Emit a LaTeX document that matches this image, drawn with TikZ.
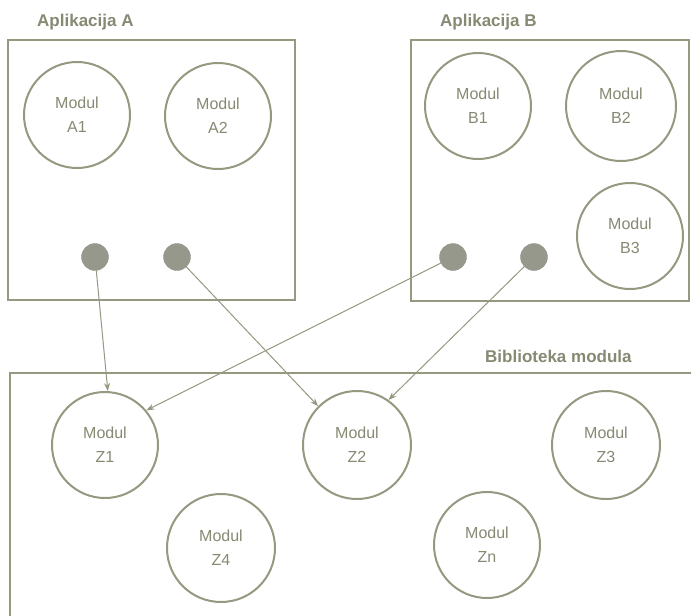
\documentclass[tikz,border=0pt]{standalone}
\usepackage{fontspec}
\setmainfont{Liberation Sans}
\usetikzlibrary{arrows.meta}
\definecolor{ln}{RGB}{150,152,128}
\definecolor{tx}{RGB}{135,137,115}
\definecolor{dt}{RGB}{150,152,140}
\tikzset{
  frame/.style={draw=ln, line width=2pt},
  modul/.style={circle, draw=ln, line width=2pt, minimum size=#1, inner sep=0pt,
    align=center, text=tx, font=\fontsize{16}{24}\selectfont},
  modul/.default=106pt,
  port/.style={circle, fill=dt, draw=dt, minimum size=27pt, inner sep=0pt},
  title/.style={anchor=base west, text=tx, font=\fontsize{17}{20}\selectfont\bfseries, inner sep=0pt},
  link/.style={draw=ln, line width=1pt, -{Stealth[length=8pt,width=6pt]}}
}
\begin{document}
\begin{tikzpicture}[x=1pt,y=-1pt]
\useasboundingbox[fill=white] (0,0) rectangle (691,616);
% frames
\draw[frame] (8,40) rectangle (295,300);
\draw[frame] (411,40) rectangle (689,301);
\draw[frame] (691,373) -- (10,373) -- (10,620);
% titles
\node[title] (tA) at (37,26) {Aplikacija A};
\node[title] (tB) at (440,26) {Aplikacija B};
\node[title] (tL) at (485,362) {Biblioteka modula};
% application A
\node[modul] (A1) at (77,115) {Modul\\A1};
\node[modul] (A2) at (218,116) {Modul\\A2};
% application B
\node[modul] (B1) at (478,106) {Modul\\B1};
\node[modul=110pt] (B2) at (621,106) {Modul\\B2};
\node[modul] (B3) at (630,236) {Modul\\B3};
% ports
\node[port] (p1) at (95,257) {};
\node[port] (p2) at (177,257) {};
\node[port] (p3) at (453,257) {};
\node[port] (p4) at (534,257) {};
% library
\node[modul] (Z1) at (105,445) {Modul\\Z1};
\node[modul=108pt] (Z2) at (357,445) {Modul\\Z2};
\node[modul=108pt] (Z3) at (606,445) {Modul\\Z3};
\node[modul=108pt] (Z4) at (221,548) {Modul\\Z4};
\node[modul=106pt] (Zn) at (487,545) {Modul\\Zn};
% links
\draw[link] (p1) -- (Z1.87);
\draw[link] (p2) -- (Z2.135);
\draw[link] (p3) -- (Z1.40);
\draw[link] (p4) -- (Z2.55);
\end{tikzpicture}
\end{document}
